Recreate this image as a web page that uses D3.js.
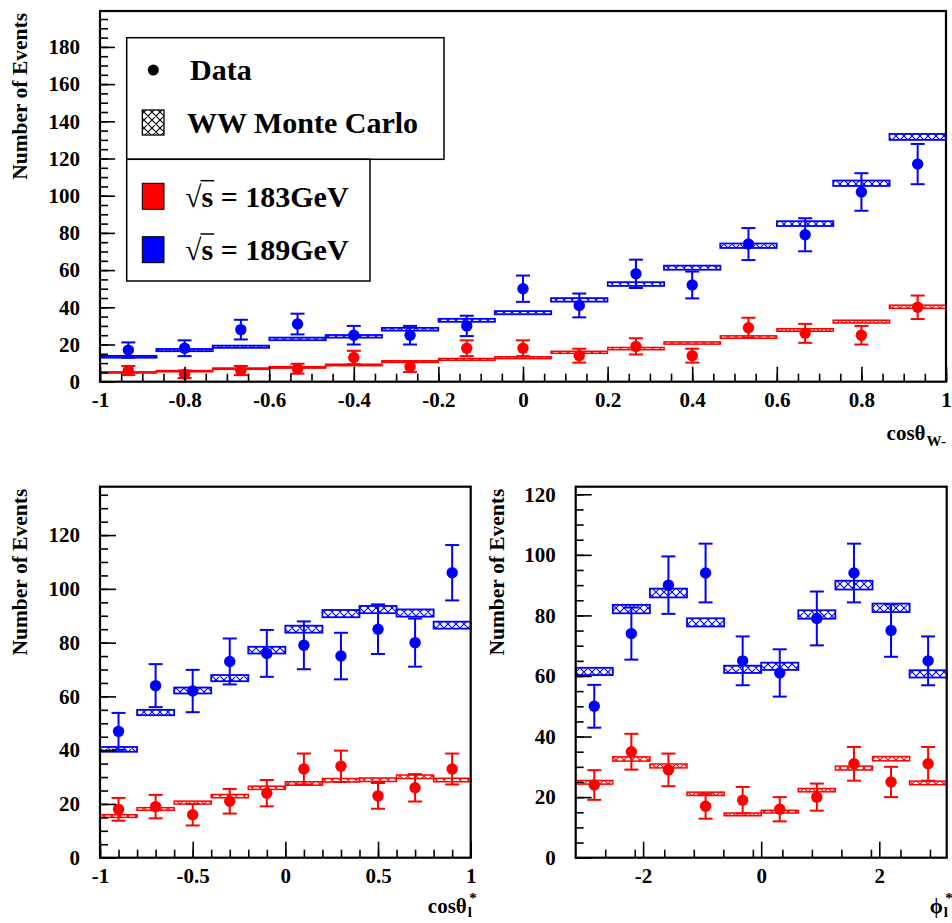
<!DOCTYPE html>
<html><head><meta charset="utf-8">
<script src="https://cdn.jsdelivr.net/npm/d3@7"></script>
<style>
html,body{margin:0;padding:0;background:#fff;}
svg{display:block;font-family:"Liberation Serif","Times New Roman",serif;font-weight:bold;}
</style></head><body>
<svg id="c" width="952" height="923"></svg>
<script>
// ---------- cos(theta_W-) : 15 bins on [-1,1] ----------
const cosWCenters = [-0.933,-0.8,-0.667,-0.533,-0.4,-0.267,-0.133,0,0.133,0.267,0.4,0.533,0.667,0.8,0.933];
const cosWData183 = [6,4,6,7,13,8,18,18,14,19,14,29,26,25,40];
const cosWData189 = [17,18,28,31,25,25,30,50,41,58,52,74,79,102,117];
const cosWMC183   = [5,5.7,7,7.7,9,10.8,12,12.9,15.8,17.8,20.8,24,27.8,32.3,40.3];
const cosWMC189   = [13.4,17,18.8,23,24.4,28.2,33,37.1,44,52.5,61.3,73.1,85,106.7,131.6];
const cosWMCErr183 = [0.3,0.3,0.35,0.4,0.4,0.45,0.5,0.5,0.55,0.6,0.6,0.65,0.7,0.75,0.85];
const cosWMCErr189 = [0.5,0.6,0.6,0.7,0.7,0.75,0.8,0.85,0.95,1.0,1.1,1.2,1.3,1.45,1.6];
const cosWTicks = [-1,-0.8,-0.6,-0.4,-0.2,0,0.2,0.4,0.6,0.8,1];
const cosWYTicks = [0,20,40,60,80,100,120,140,160,180];

// ---------- cos(theta_l*) : 10 bins on [-1,1] ----------
const cosLCenters = [-0.9,-0.7,-0.5,-0.3,-0.1,0.1,0.3,0.5,0.7,0.9];
const cosLData183 = [18,19,16,21,24,33,34,23,26,33];
const cosLData189 = [47,64,62,73,76,79,75,85,80,106];
const cosLMC183   = [15.5,18.1,20.5,22.9,26,27.6,28.8,29,30.1,28.9];
const cosLMC189   = [40.3,54,62.2,66.8,77.2,85,90.8,92.3,91,86.5];
const cosLMCErr183 = [0.5,0.5,0.55,0.6,0.6,0.65,0.65,0.65,0.65,0.65];
const cosLMCErr189 = [0.9,1.0,1.1,1.15,1.25,1.3,1.35,1.35,1.35,1.3];
const cosLTicks = [-1,-0.5,0,0.5,1];
const cosLYTicks = [0,20,40,60,80,100,120];

// ---------- phi_l* : 10 bins on [-pi,pi] ----------
const phiCenters = [-2.827,-2.199,-1.571,-0.942,-0.314,0.314,0.942,1.571,2.199,2.827];
const phiData183 = [24,35,29,17,19,16,20,31,25,31];
const phiData189 = [50,74,90,94,65,61,79,94,75,65];
const phiMC183   = [24.9,32.6,30.3,21.1,14.3,15.2,22.3,29.6,32.7,24.7];
const phiMC189   = [61.5,82.1,87.4,77.7,62.2,63.2,80.3,90,82.5,60.7];
const phiMCErr183 = [0.6,0.7,0.65,0.55,0.45,0.45,0.55,0.65,0.7,0.6];
const phiMCErr189 = [1.2,1.4,1.45,1.35,1.2,1.2,1.4,1.45,1.4,1.2];
const phiTicks = [-2,0,2];
const phiYTicks = [0,20,40,60,80,100,120];

const RED = "#ff0000", BLUE = "#0000ff";

const svg = d3.select("#c");
const defs = svg.append("defs");

// cross-hatch fills for the Monte Carlo bands
function hatch(id, color) {
  const p = defs.append("pattern").attr("id", id)
    .attr("patternUnits", "userSpaceOnUse").attr("width", 8).attr("height", 8);
  p.append("path").attr("d", "M0,0L8,8M8,0L0,8M-1,7L1,9M7,-1L9,1M-1,1L1,-1M7,9L9,7")
    .attr("stroke", color).attr("stroke-width", 1.1).attr("fill", "none");
}
hatch("hRed", RED);
hatch("hBlue", BLUE);
hatch("hBlack", "#000");

const fmt = v => String(+v.toFixed(2)).replace("\u2212", "-");

function panel(cfg) {
  const x = d3.scaleLinear().domain(cfg.xDom).range([cfg.x0, cfg.x1]);
  const y = d3.scaleLinear().domain([0, cfg.yMax]).range([cfg.y1, cfg.y0]);
  const g = svg.append("g");
  const binW = (cfg.xDom[1] - cfg.xDom[0]) / cfg.centers.length;

  // Monte Carlo bands (hatched boxes)
  const series = [
    {mc: cfg.mc183, err: cfg.mcErr183, data: cfg.d183, color: RED, fill: "url(#hRed)", sw: 1.5},
    {mc: cfg.mc189, err: cfg.mcErr189, data: cfg.d189, color: BLUE, fill: "url(#hBlue)", sw: 1.8}
  ];
  series.forEach(s => {
    g.append("g").selectAll("rect").data(cfg.centers).join("rect")
      .attr("x", c => x(c - binW / 2))
      .attr("width", c => x(c + binW / 2) - x(c - binW / 2))
      .attr("y", (c, i) => y(s.mc[i] + s.err[i]))
      .attr("height", (c, i) => Math.max(1.2, y(s.mc[i] - s.err[i]) - y(s.mc[i] + s.err[i])))
      .attr("fill", s.fill).attr("stroke", s.color).attr("stroke-width", s.sw);
  });

  // data points with Poisson error bars
  series.forEach(s => {
    const pts = g.append("g").selectAll("g").data(cfg.centers).join("g");
    pts.append("line")
      .attr("x1", c => x(c)).attr("x2", c => x(c))
      .attr("y1", (c, i) => y(s.data[i] + Math.sqrt(s.data[i])))
      .attr("y2", (c, i) => y(Math.max(0, s.data[i] - Math.sqrt(s.data[i]))))
      .attr("stroke", s.color).attr("stroke-width", 2);
    [1, -1].forEach(sg => {
      pts.append("line")
        .attr("x1", c => x(c) - 7).attr("x2", c => x(c) + 7)
        .attr("y1", (c, i) => y(Math.max(0, s.data[i] + sg * Math.sqrt(s.data[i]))))
        .attr("y2", (c, i) => y(Math.max(0, s.data[i] + sg * Math.sqrt(s.data[i]))))
        .attr("stroke", s.color).attr("stroke-width", 2);
    });
    pts.append("circle")
      .attr("cx", c => x(c)).attr("cy", (c, i) => y(s.data[i]))
      .attr("r", 5.7).attr("fill", s.color);
  });

  // axes: ticks pointing into the frame
  const xMinor = d3.range(cfg.xDom[0], cfg.xDom[1] + 1e-9, cfg.xMinorStep)
    .map(v => +v.toFixed(4)).filter(v => v >= cfg.xMinorStart);
  const yMinor = d3.range(0, cfg.yMax, 5);

  const axStyle = sel => {
    sel.select(".domain").remove();
    sel.selectAll(".tick line").attr("stroke", "#000").attr("stroke-width", 1.6);
    sel.selectAll("text").attr("fill", "#000")
      .style("font-family", '"Liberation Serif","Times New Roman",serif')
      .style("font-weight", "bold").style("font-size", "21px");
  };

  g.append("g").attr("transform", `translate(0,${cfg.y1})`)
    .call(d3.axisBottom(x).tickValues(xMinor).tickSizeInner(-8).tickSizeOuter(0).tickFormat(""))
    .call(axStyle);
  g.append("g").attr("transform", `translate(0,${cfg.y1})`)
    .call(d3.axisBottom(x).tickValues(cfg.xTicks).tickSizeInner(-cfg.majLen).tickSizeOuter(0)
      .tickPadding(10).tickFormat(fmt))
    .call(axStyle);
  g.append("g").attr("transform", `translate(${cfg.x0},0)`)
    .call(d3.axisLeft(y).tickValues(yMinor).tickSizeInner(-8).tickSizeOuter(0).tickFormat(""))
    .call(axStyle);
  g.append("g").attr("transform", `translate(${cfg.x0},0)`)
    .call(d3.axisLeft(y).tickValues(cfg.yTicks).tickSizeInner(-cfg.majLen).tickSizeOuter(0)
      .tickPadding(20).tickFormat(fmt))
    .call(axStyle);

  // frame
  g.append("rect").attr("x", cfg.x0).attr("y", cfg.y0)
    .attr("width", cfg.x1 - cfg.x0).attr("height", cfg.y1 - cfg.y0)
    .attr("fill", "none").attr("stroke", "#000").attr("stroke-width", 2.2);

  // y title
  g.append("text").attr("transform", `translate(${cfg.yTitleX},${cfg.y0 + 2}) rotate(-90)`)
    .attr("text-anchor", "end").style("font-size", "21.5px").text("Number of Events");

  return {g, x, y};
}

// x-axis title: main text with stacked subscript / superscript, right-aligned
function xTitle(g, right, base, main, sub, sup) {
  const sb = g.append("text").attr("x", right).attr("y", base + (sup ? 4 : 6))
    .attr("text-anchor", "end").style("font-size", "15px").text(sub);
  const w = sb.node().getComputedTextLength();
  if (sup) {
    g.append("text").attr("x", right - w / 2 + 3).attr("y", base - 10)
      .attr("text-anchor", "middle").style("font-size", "15px").text(sup);
  }
  g.append("text").attr("x", right - w - 1).attr("y", base)
    .attr("text-anchor", "end").style("font-size", "21px").text(main);
}

const pTop = panel({
  x0: 100, x1: 946, y0: 11, y1: 381.7, xDom: [-1, 1], yMax: 199.3,
  centers: cosWCenters, d183: cosWData183, d189: cosWData189,
  mc183: cosWMC183, mc189: cosWMC189, mcErr183: cosWMCErr183, mcErr189: cosWMCErr189,
  xTicks: cosWTicks, yTicks: cosWYTicks, xMinorStep: 0.05, xMinorStart: -1, majLen: 15, yTitleX: 27
});
xTitle(pTop.g, 946, 440, "cos\u03b8", "W-", null);

const pBL = panel({
  x0: 100, x1: 470.7, y0: 486.7, y1: 857.7, xDom: [-1, 1], yMax: 138,
  centers: cosLCenters, d183: cosLData183, d189: cosLData189,
  mc183: cosLMC183, mc189: cosLMC189, mcErr183: cosLMCErr183, mcErr189: cosLMCErr189,
  xTicks: cosLTicks, yTicks: cosLYTicks, xMinorStep: 0.1, xMinorStart: -1, majLen: 16, yTitleX: 27
});
xTitle(pBL.g, 472, 913, "cos\u03b8", "l", "*");

const pBR = panel({
  x0: 575.7, x1: 946.7, y0: 486.7, y1: 857.7, xDom: [-Math.PI, Math.PI], yMax: 122.5,
  centers: phiCenters, d183: phiData183, d189: phiData189,
  mc183: phiMC183, mc189: phiMC189, mcErr183: phiMCErr183, mcErr189: phiMCErr189,
  xTicks: phiTicks, yTicks: phiYTicks, xMinorStep: 0.5, xMinorStart: -3, majLen: 16, yTitleX: 504
});
xTitle(pBR.g, 948, 913, "\u03d5", "l", "*");

// ---------- legend ----------
const lg = svg.append("g");
lg.append("rect").attr("x", 126.7).attr("y", 37.7).attr("width", 317.3).attr("height", 121.6)
  .attr("fill", "#fff").attr("stroke", "#000").attr("stroke-width", 1.5);
lg.append("rect").attr("x", 126.7).attr("y", 159.3).attr("width", 243.3).attr("height", 121.7)
  .attr("fill", "#fff").attr("stroke", "#000").attr("stroke-width", 1.5);

lg.append("circle").attr("cx", 153.3).attr("cy", 70).attr("r", 5.5).attr("fill", "#000");
lg.append("text").attr("x", 190).attr("y", 80).style("font-size", "30px").text("Data");

lg.append("rect").attr("x", 142.3).attr("y", 110).attr("width", 21.7).attr("height", 25)
  .attr("fill", "url(#hBlack)").attr("stroke", "#000").attr("stroke-width", 1.3);
lg.append("text").attr("x", 187).attr("y", 133).style("font-size", "30px").text("WW Monte Carlo");

const energies = [
  {label: "183GeV", color: RED, top: 183.3, base: 206.7},
  {label: "189GeV", color: BLUE, top: 236.7, base: 260}
];
energies.forEach(e => {
  lg.append("rect").attr("x", 142.3).attr("y", e.top).attr("width", 21.7).attr("height", 26)
    .attr("fill", e.color).attr("stroke", "#000").attr("stroke-width", 1);
  const t = lg.append("text").attr("x", 185).attr("y", e.base).style("font-size", "30px");
  t.append("tspan").style("font-weight", "normal").text("\u221a");
  t.append("tspan").text("s");
  t.append("tspan").text(" = " + e.label);
  const r0 = t.node().getExtentOfChar(0);
  const r1 = t.node().getExtentOfChar(1);
  lg.append("line").attr("x1", r0.x + r0.width - 1).attr("x2", r1.x + r1.width + 1)
    .attr("y1", e.base - 26).attr("y2", e.base - 26)
    .attr("stroke", "#000").attr("stroke-width", 1.5);
});
</script>
</body></html>
